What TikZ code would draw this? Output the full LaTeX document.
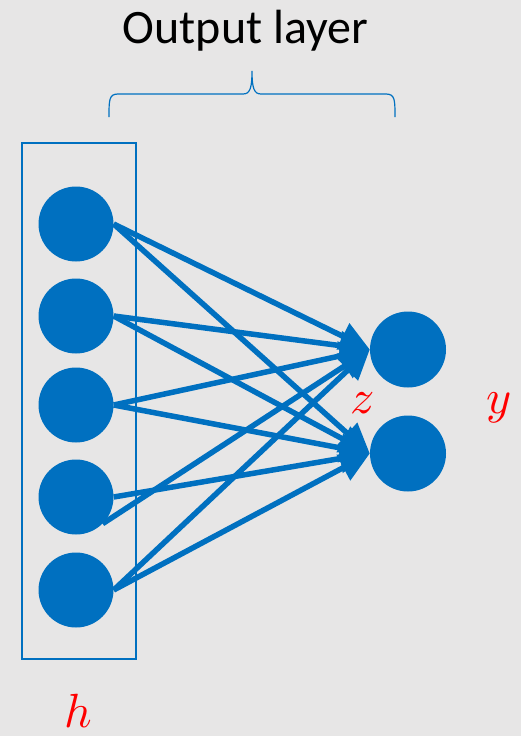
\documentclass[tikz,border=0pt]{standalone}
\usepackage{fontspec}
\usepackage{unicode-math}
\setmainfont{Carlito}
\setmathfont{Latin Modern Math}
\usepackage{tikz}
\usetikzlibrary{arrows.meta}
\definecolor{nnblue}{HTML}{0070C0}
\definecolor{slidegray}{HTML}{E7E6E6}

\begin{document}
\begin{tikzpicture}[x=1pt,y=1pt,>={Triangle[length=30pt,width=28pt]},
    neuron/.style={shape=circle,fill=nnblue,minimum size=75pt,inner sep=0pt},
    link/.style={->,draw=nnblue,line width=5.5pt},
    varlabel/.style={text=red,anchor=base,inner sep=0pt,font=\fontsize{48}{48}\selectfont}]
                \fill[slidegray](0,0)rectangle(521,-736);
                \useasboundingbox(0,0)rectangle(521,-736);
                % hidden layer
                \node[draw=nnblue,line width=2pt,minimum width=114pt,minimum height=516pt,inner sep=0pt](hbox)at(79, -401){};
                \node[neuron](h1)at(76, -224){};
                \node[neuron](h2)at(76, -316){};
                \node[neuron](h3)at(76, -405){};
                \node[neuron](h4)at(76, -497){};
                \node[neuron](h5)at(76, -590){};
                % output layer
                \node[neuron,minimum size=76pt](z1)at(408, -349.5){};
                \node[neuron,minimum size=76pt](z2)at(408, -453.5){};
                % labels
                \node[anchor=base,font=\fontsize{48}{48}\selectfont](title)at(245.5, -43){Output layer};
                \node[varlabel](zlab)at(362, -413){$z$};
                \node[varlabel](ylab)at(499, -413){$y$};
                \node[varlabel](hlab)at(78, -727){$h$};
                \draw[nnblue,line width=1.2pt](109,-117) .. controls (109,-100) and (109,-94) .. (118,-94) -- (243,-94)
                    .. controls (250,-94) and (252,-88) .. (252,-71) .. controls (252,-88) and (254,-94) .. (261,-94)
                    -- (386,-94) .. controls (395,-94) and (395,-100) .. (395,-117);
                \path(h1.east) edge[link] (z1.west)
                (h1.east) edge[link] (z2.west)
                (h2.east) edge[link] (z1.west)
                (h2.east) edge[link] (z2.west)
                (h3.east) edge[link] (z1.west)
                (h3.east) edge[link] (z2.west)
                (h4.-45) edge[link] (z1.west)
                (h4.east) edge[link] (z2.west)
                (h5.east) edge[link] (z1.west)
                (h5.east) edge[link] (z2.west);
            \end{tikzpicture}
\end{document}
